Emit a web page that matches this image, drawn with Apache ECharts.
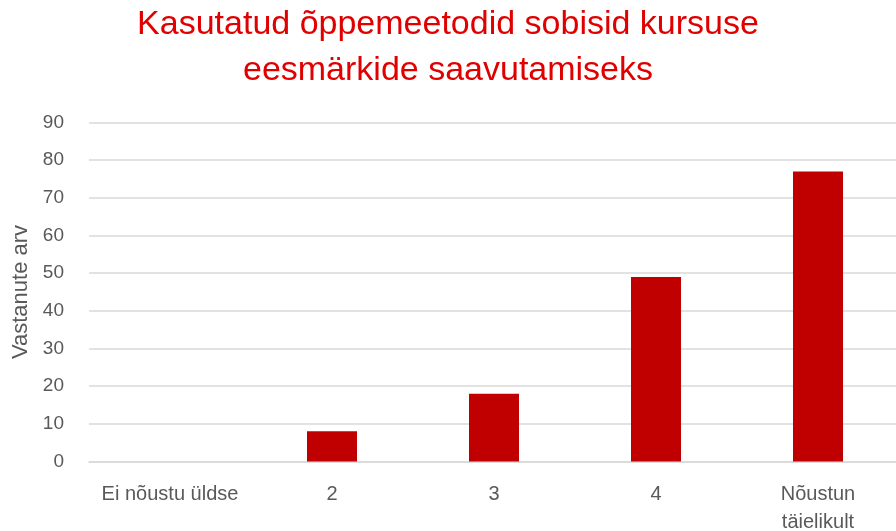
<!DOCTYPE html>
<html>
<head>
<meta charset="utf-8">
<script src="https://cdn.jsdelivr.net/npm/echarts@6/dist/echarts.min.js"></script>
<style>html,body{margin:0;padding:0;background:#fff}#c{width:896px;height:531px}</style>
</head>
<body>
<div id="c"></div>
<script>
const titleText = 'Kasutatud õppemeetodid sobisid kursuse\neesmärkide saavutamiseks';
const yAxisName = 'Vastanute arv';
const categories = ['Ei nõustu üldse', '2', '3', '4', 'Nõustun täielikult'];
const values = [0, 8, 18, 49, 77];
const yMin = 0, yMax = 90, yStep = 10;

const chart = echarts.init(document.getElementById('c'), null, {renderer: 'canvas'});
chart.setOption({
  animation: false,
  backgroundColor: '#fff',
  title: {
    text: titleText,
    left: 'center',
    top: -3,
    textStyle: {
      color: '#e00000',
      fontFamily: 'Liberation Sans, sans-serif',
      fontWeight: 'normal',
      fontSize: 34,
      lineHeight: 46
    }
  },
  grid: { left: 89, width: 810, top: 122.5, bottom: 69.5, containLabel: false, outerBoundsMode: 'none' },
  xAxis: {
    type: 'category',
    data: categories,
    axisLine: { show: true, lineStyle: { color: '#d9d9d9', width: 1.5 } },
    axisTick: { show: false },
    axisLabel: {
      color: '#595959',
      fontFamily: 'Liberation Sans, sans-serif',
      fontSize: 20,
      lineHeight: 28,
      margin: 19,
      interval: 0,
      formatter: v => v.replace('Nõustun ', 'Nõustun\n')
    }
  },
  yAxis: {
    type: 'value',
    min: yMin, max: yMax, interval: yStep,
    name: yAxisName,
    nameLocation: 'middle',
    nameGap: 56,
    nameTextStyle: { color: '#595959', fontSize: 22, fontFamily: 'Liberation Sans, sans-serif' },
    axisLine: { show: false },
    axisTick: { show: false },
    splitLine: { lineStyle: { color: '#d9d9d9', width: 1.5 } },
    axisLabel: { color: '#595959', fontSize: 19, margin: 25, fontFamily: 'Liberation Sans, sans-serif' }
  },
  series: [{
    type: 'bar',
    data: values,
    barWidth: 50,
    itemStyle: { color: '#c00000' }
  }]
});
</script>
</body>
</html>
